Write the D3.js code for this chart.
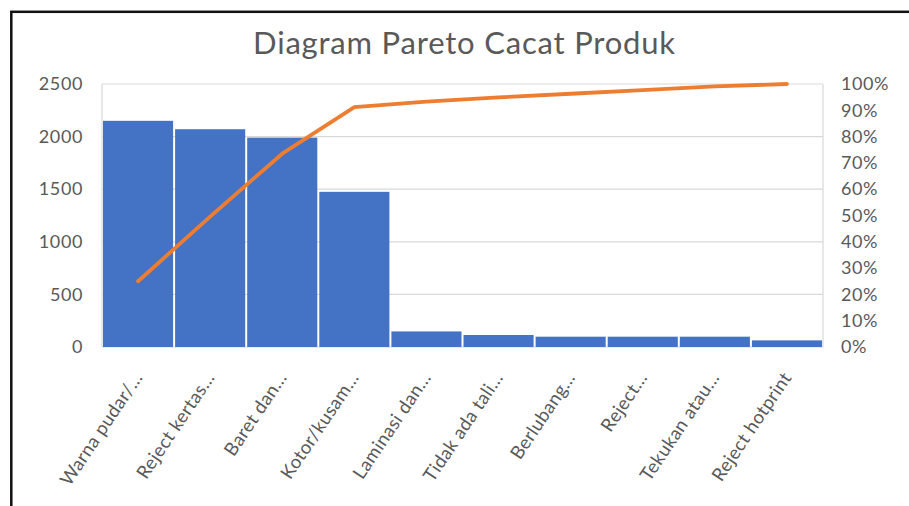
<!DOCTYPE html>
<html>
<head>
<meta charset="utf-8">
<script src="https://cdn.jsdelivr.net/npm/d3@7"></script>
<style>
  html, body { margin: 0; padding: 0; background: #fff; }
  svg { display: block; }
</style>
</head>
<body>
<div id="chart"></div>
<script>
// values
var categories = ["Warna pudar/...", "Reject kertas...", "Baret dan...", "Kotor/kusam...",
    "Laminasi dan...", "Tidak ada tali...", "Berlubang...", "Reject...", "Tekukan atau...", "Reject hotprint"];
var defects = [2150, 2070, 1990, 1475, 148, 114, 98, 98, 98, 63];
var cumulativePct = [25, 49.6, 73.5, 91.2, 93.3, 94.9, 96.3, 97.7, 99.1, 100];
var countTicks = [0, 500, 1000, 1500, 2000, 2500];
var pctTicks = [0, 10, 20, 30, 40, 50, 60, 70, 80, 90, 100];
var title = "Diagram Pareto Cacat Produk";

var W = 909, H = 506;
var plot = {left: 102, right: 823, top: 84, bottom: 347};
var font = "Lato, 'Open Sans', sans-serif";
var grey = "#595959";

var svg = d3.select("#chart").append("svg")
    .attr("width", W)
    .attr("height", H);

svg.append("rect").attr("width", W).attr("height", H).attr("fill", "#fff");

// black frame round the chart (runs off right and bottom)
svg.append("rect")
    .attr("x", 11.3).attr("y", 11.8)
    .attr("width", W + 20).attr("height", H + 20)
    .attr("fill", "none")
    .attr("stroke", "#111")
    .attr("stroke-width", 2.5);

var x = d3.scaleBand().domain(categories).range([plot.left, plot.right]).padding(0);
var y = d3.scaleLinear().domain([0, 2500]).range([plot.bottom, plot.top]);
var yPct = d3.scaleLinear().domain([0, 100]).range([plot.bottom, plot.top]);

// gridlines
svg.append("g").selectAll("line")
    .data(countTicks)
    .enter().append("line")
    .attr("x1", plot.left).attr("x2", plot.right)
    .attr("y1", function (d) { return y(d); })
    .attr("y2", function (d) { return y(d); })
    .attr("stroke", "#d9d9d9")
    .attr("stroke-width", 1.2);

// plot area sides
svg.append("g").selectAll("line")
    .data([plot.left, plot.right])
    .enter().append("line")
    .attr("x1", function (d) { return d; }).attr("x2", function (d) { return d; })
    .attr("y1", plot.top).attr("y2", plot.bottom)
    .attr("stroke", "#d9d9d9")
    .attr("stroke-width", 1.2);

// bars
svg.append("g").selectAll("rect")
    .data(defects)
    .enter().append("rect")
    .attr("x", function (d, i) { return x(categories[i]) + 1; })
    .attr("width", x.bandwidth() - 2)
    .attr("y", function (d) { return y(d); })
    .attr("height", function (d) { return y(0) - y(d); })
    .attr("fill", "#4472c4");

// cumulative line
var line = d3.line()
    .x(function (d, i) { return x(categories[i]) + x.bandwidth() / 2; })
    .y(function (d) { return yPct(d); });

svg.append("path")
    .datum(cumulativePct)
    .attr("d", line)
    .attr("fill", "none")
    .attr("stroke", "#ed7d31")
    .attr("stroke-width", 3.8)
    .attr("stroke-linejoin", "round")
    .attr("stroke-linecap", "round");

// left axis
var left = svg.append("g")
    .attr("transform", "translate(" + (plot.left - 19) + ",0)")
    .call(d3.axisLeft(y).tickValues(countTicks).tickSize(0).tickPadding(0).tickFormat(d3.format("d")));
left.select(".domain").remove();
left.selectAll("text")
    .attr("font-family", font)
    .attr("font-size", 18)
    .attr("letter-spacing", 0.6)
    .attr("fill", grey);

// right axis
var right = svg.append("g")
    .attr("transform", "translate(" + (plot.right + 18) + ",0)")
    .call(d3.axisRight(yPct).tickValues(pctTicks).tickSize(0).tickPadding(0)
        .tickFormat(function (d) { return d + "%"; }));
right.select(".domain").remove();
right.selectAll("text")
    .attr("font-family", font)
    .attr("font-size", 18)
    .attr("letter-spacing", 0.6)
    .attr("fill", grey);

// category labels, rotated
var bottom = svg.append("g")
    .attr("transform", "translate(0," + (plot.bottom + 27) + ")")
    .call(d3.axisBottom(x).tickSize(0).tickPadding(0));
bottom.select(".domain").remove();
bottom.selectAll("text")
    .attr("font-family", font)
    .attr("font-size", 18.5)
    .attr("letter-spacing", 0.4)
    .attr("fill", grey)
    .attr("text-anchor", "end")
    .attr("dy", "0.35em")
    .attr("transform", "rotate(-56)");

// title
svg.append("text")
    .attr("x", (plot.left + plot.right) / 2 + 2)
    .attr("y", 54)
    .attr("text-anchor", "middle")
    .attr("font-family", font)
    .attr("font-size", 31)
    .attr("letter-spacing", 0.8)
    .attr("fill", grey)
    .text(title);
</script>
</body>
</html>
